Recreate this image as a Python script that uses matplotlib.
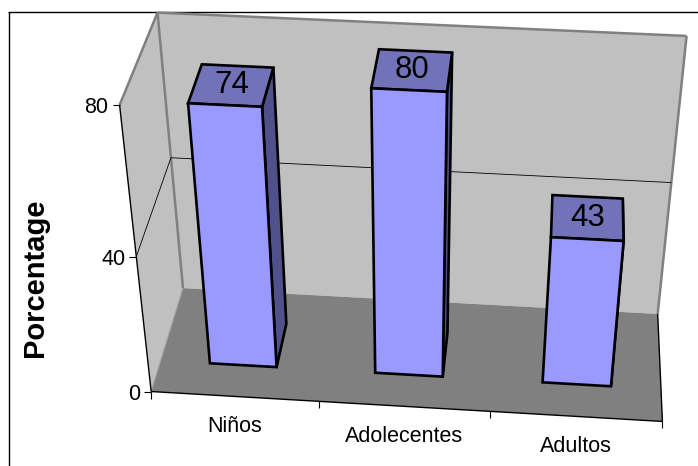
import numpy as np
import matplotlib
matplotlib.use("Agg")
import matplotlib.pyplot as plt
from matplotlib.patches import Polygon

categories = ["Niños", "Adolecentes", "Adultos"]
values = [74, 80, 43]
value_ticks = [0, 40, 80]
axis_title = "Porcentage"

# Camera fit: (category position, depth, value) -> pixel, from the box corners
BOX_3D = [(0,0,0),(3,0,0),(0,1,0),(3,1,0),(0,0,80),(0,1,80),(3,1,80),(0,0,40),(0,1,40),(3,1,40)]
BOX_PX = [(151.5,392.5),(662,422),(183,288),(658,313),(120,105),(157,13),(687,36),(136,255),(171,158),(671,183)]
A, b = [], []
for (X,Y,Z),(u,v) in zip(BOX_3D, BOX_PX):
    A.append([X,Y,Z,1,0,0,0,0,-u*X,-u*Y,-u*Z]); b.append(u)
    A.append([0,0,0,0,X,Y,Z,1,-v*X,-v*Y,-v*Z]); b.append(v)
p = np.linalg.lstsq(np.array(A,float), np.array(b,float), rcond=None)[0]
P = np.append(p, 1.0).reshape(3,4)

def pr(x, y, z):
    h = P @ np.array([x, y, z, 1.0])
    return (h[0]/h[2], h[1]/h[2])

fig = plt.figure(figsize=(6.98,4.66), dpi=100)
ax = fig.add_axes([0,0,1,1])
ax.set_xlim(0,698); ax.set_ylim(466,0); ax.axis("off")
plt.rcParams['font.family'] = ['Liberation Sans','DejaVu Sans']

WALL, FLOOR, EDGE = "#c0c0c0", "#808080", "#808080"
FRONT, TOP, SIDE = "#9999ff", "#7272b9", "#50508a"
ZMAX = value_ticks[-1]; NC = len(categories)

def poly(pts, fc, ec="none", lw=0, z=1):
    ax.add_patch(Polygon(pts, closed=True, fc=fc, ec=ec, lw=lw, zorder=z, joinstyle="miter"))
def line(a, b, c="k", lw=0.8, z=2):
    ax.plot([a[0],b[0]],[a[1],b[1]], color=c, lw=lw, zorder=z, solid_capstyle="butt")

# outer frame (open on the right and bottom)
line((8.5,466),(8.5,12), lw=1.0); line((8,12),(698,12), lw=1.0)

# walls and floor
poly([pr(0,0,0),pr(0,1,0),pr(0,1,ZMAX),pr(0,0,ZMAX)], WALL)
poly([pr(0,1,0),pr(NC,1,0),pr(NC,1,ZMAX),pr(0,1,ZMAX)], WALL)
poly([pr(0,0,0),pr(NC,0,0),pr(NC,1,0),pr(0,1,0)], FLOOR)
line(pr(0,0,ZMAX),pr(0,1,ZMAX),EDGE,1.8)
line(pr(0,1,ZMAX),pr(NC,1,ZMAX),EDGE,1.8)
line(pr(0,1,ZMAX),pr(0,1,0),EDGE,1.8)
line(pr(NC,1,ZMAX),pr(NC,1,0),EDGE,1.8)
line(pr(0,0,0),pr(0,1,0),"#a0a0a0",0.8)

# gridlines on the walls
for t in value_ticks[1:-1]:
    line(pr(0,0,t),pr(0,1,t),"k",0.6)
    line(pr(0,1,t),pr(NC,1,t),"k",0.6)

# axis lines
line(pr(0,0,0),pr(0,0,ZMAX),"k",1.0,3)
line(pr(0,0,0),pr(NC,0,0),"k",1.0,3)
line(pr(NC,0,0),pr(NC,1,0),"k",1.0,3)

# value ticks and labels
for t in value_ticks:
    u,v = pr(0,0,t)
    line((u-7,v),(u,v),"k",0.8,3)
    ax.text(u-11,v,str(t),ha="right",va="center_baseline",fontsize=15.5,color="k")

# category ticks and labels
for i in range(NC+1):
    u,v = pr(i,0,0)
    line((u,v),(u,v+7),"k",0.8,3)
for i,c in enumerate(categories):
    u,v = pr(i+0.5,0,0)
    ax.text(u,v+30,c,ha="center",va="center",fontsize=15.5,color="k")

ax.text(35,277.5,axis_title,rotation=90,ha="center",va="center",fontsize=21,fontweight="bold",color="k")

# bars
L, R, D0, D1 = 0.30, 0.705, 0.285, 0.70
for i,val in enumerate(values):
    x0,x1 = i+L,i+R
    ec = dict(ec="k", lw=1.9)
    poly([pr(x1,D0,0),pr(x1,D1,0),pr(x1,D1,val),pr(x1,D0,val)], SIDE, z=5+i, **ec)
    poly([pr(x0,D0,val),pr(x1,D0,val),pr(x1,D1,val),pr(x0,D1,val)], TOP, z=5+i, **ec)
    poly([pr(x0,D0,0),pr(x1,D0,0),pr(x1,D0,val),pr(x0,D0,val)], FRONT, z=5+i, **ec)
    u,v = pr((x0+x1)/2,(D0+D1)/2,val)
    ax.text(u,v,str(val),ha="center",va="center",fontsize=22.5,color="k",zorder=20)

fig.savefig("out.png", dpi=100)
